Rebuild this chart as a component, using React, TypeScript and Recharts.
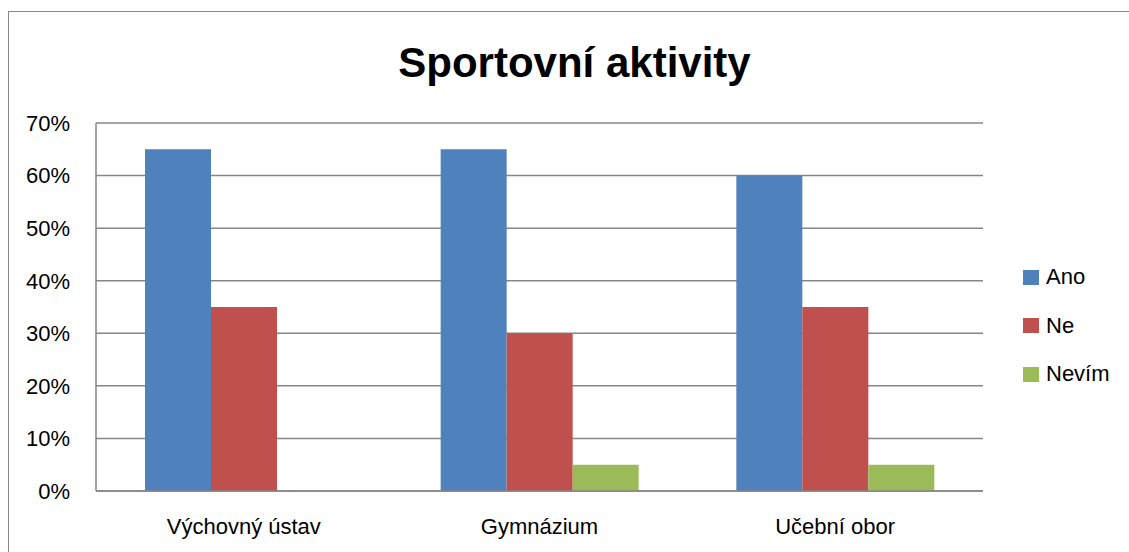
import { BarChart, Bar, XAxis, YAxis, CartesianGrid } from 'recharts';

const categories = ['Výchovný ústav', 'Gymnázium', 'Učební obor'];
const ano = [0.65, 0.65, 0.6];
const ne = [0.35, 0.3, 0.35];
const nevim = [0, 0.05, 0.05];
const yTicks = [0, 0.1, 0.2, 0.3, 0.4, 0.5, 0.6, 0.7];

const series = [
  { key: 'ano', label: 'Ano', color: '#4F81BD' },
  { key: 'ne', label: 'Ne', color: '#C0504D' },
  { key: 'nevim', label: 'Nevím', color: '#9BBB59' },
];

const data = categories.map((name, i) => ({
  name,
  ano: ano[i],
  ne: ne[i],
  nevim: nevim[i],
}));

const FONT = '"Liberation Sans", Arial, sans-serif';

export default function App() {
  return (
    <div style={{ position: 'absolute', left: 0, top: 0, width: 1129, height: 552, background: '#fff', fontFamily: FONT, overflow: 'hidden' }}>
      <div
        style={{
          position: 'absolute',
          left: 8,
          top: 11,
          width: 1130,
          height: 560,
          border: '1.5px solid #878787',
          boxSizing: 'border-box',
        }}
      />
      <div
        style={{
          position: 'absolute',
          left: 0,
          width: 1149,
          top: 39,
          textAlign: 'center',
          fontSize: 42,
          fontWeight: 700,
          color: '#000',
          lineHeight: '48px',
        }}
      >
        Sportovní aktivity
      </div>
      <div style={{ position: 'absolute', left: 0, top: 0 }}>
        <BarChart
          width={1129}
          height={552}
          data={data}
          margin={{ top: 123, right: 146, bottom: 21, left: 16 }}
          barGap={0}
          barSize={66}
        >
          <CartesianGrid vertical={false} stroke="#868686" strokeWidth={1.5} />
          <XAxis
            dataKey="name"
            height={40}
            tickLine={false}
            axisLine={{ stroke: '#868686', strokeWidth: 1.5 }}
            tick={{ fill: '#000', fontSize: 22, fontFamily: FONT }}
            tickMargin={21}
          />
          <YAxis
            width={80}
            domain={[0, 0.7]}
            ticks={yTicks}
            tickFormatter={(v: number) => `${Math.round(v * 100)}%`}
            tickLine={false}
            tickSize={0}
            tickMargin={26}
            axisLine={{ stroke: '#868686', strokeWidth: 1.5 }}
            tick={{ fill: '#000', fontSize: 22, fontFamily: FONT }}
          />
          {series.map((s) => (
            <Bar key={s.key} dataKey={s.key} name={s.label} fill={s.color} isAnimationActive={false} />
          ))}
        </BarChart>
      </div>
      <div style={{ position: 'absolute', left: 1023, top: 263 }}>
        {series.map((s) => (
          <div key={s.key} style={{ display: 'flex', alignItems: 'center', height: 28, marginBottom: 20.5 }}>
            <div style={{ width: 16, height: 15, background: s.color, marginRight: 7 }} />
            <span style={{ fontSize: 22, color: '#000' }}>{s.label}</span>
          </div>
        ))}
      </div>
    </div>
  );
}
